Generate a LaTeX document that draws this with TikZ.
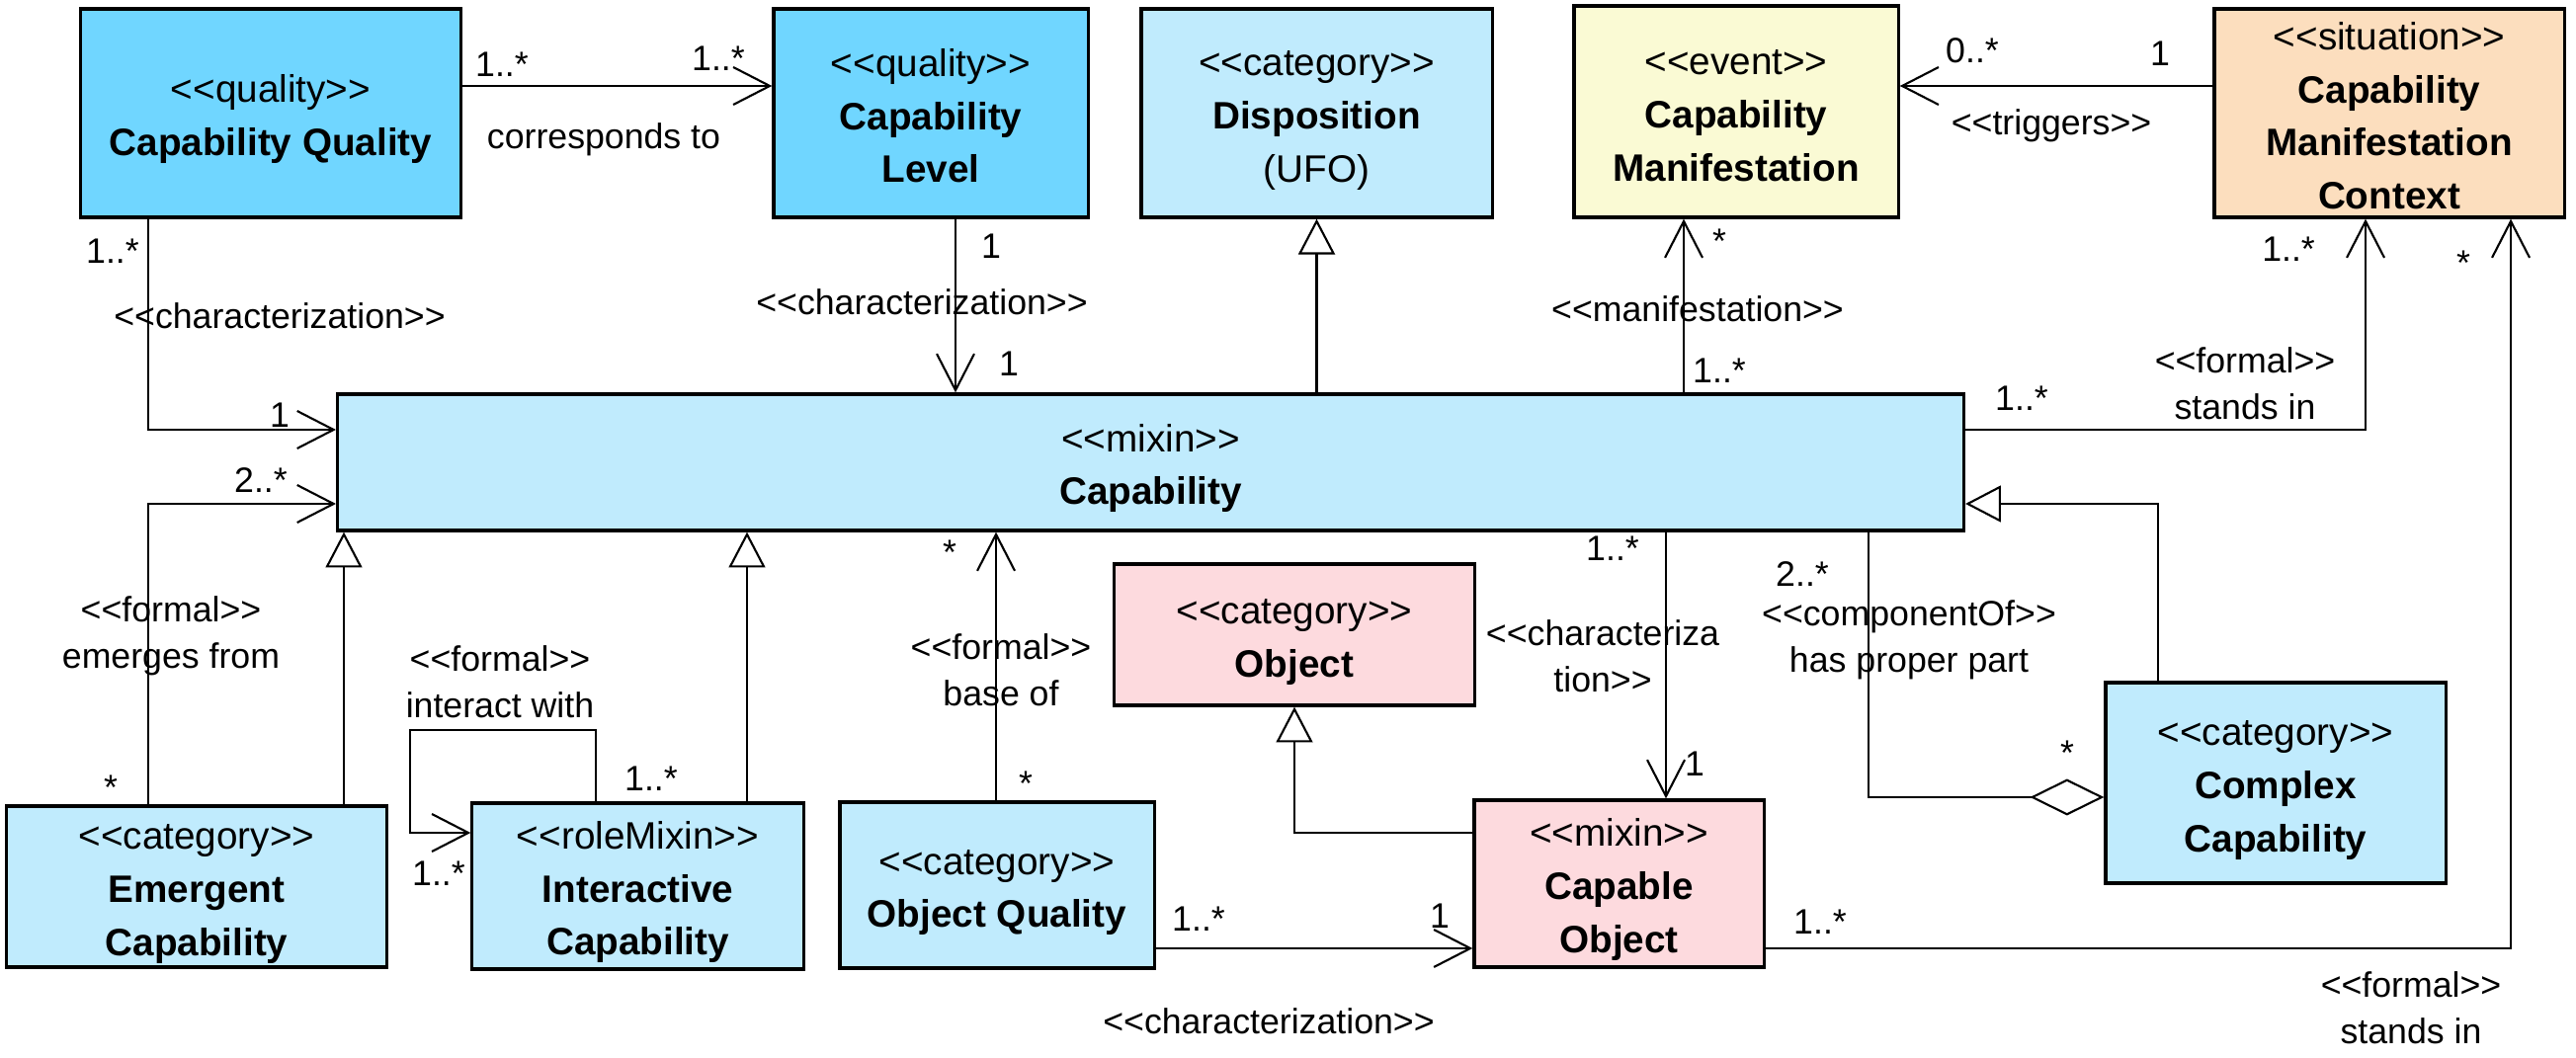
\documentclass[tikz,border=0pt]{standalone}
\usepackage{fontspec}
\setmainfont{Liberation Sans}
\usetikzlibrary{arrows.meta}
\definecolor{qblue}{RGB}{112,214,255}
\definecolor{lblue}{RGB}{192,235,253}
\definecolor{lyellow}{RGB}{250,250,212}
\definecolor{peach}{RGB}{252,222,190}
\definecolor{lpink}{RGB}{253,218,222}
\newcommand{\stereo}[1]{<{}<#1>{}>}
\newcommand{\mystrut}{\rule[-2pt]{0pt}{13.4pt}}
\newcommand{\boxfont}{\fontsize{11}{15.3}\selectfont}
\newcommand{\lblfont}{\fontsize{10.15}{13.4}\selectfont}
\tikzset{
  box/.style={draw=black, line width=0.9pt, inner sep=0pt, align=center, font=\boxfont},
  lbl/.style={inner sep=0pt, align=center, font=\lblfont},
  conn/.style={line width=0.6pt},
  assoc/.style={conn, -{Straight Barb[length=10.5pt,width=10.8pt]}},
  gen/.style={conn, -{Triangle[open,length=10.2pt,width=10.5pt]}},
  agg/.style={conn, -{Diamond[open,length=21.3pt,width=10.5pt]}},
}
\begin{document}
\begin{tikzpicture}[x=0.01cm,y=-0.01cm]
\fill[white] (0,0) rectangle (2607,1071);
\useasboundingbox (0,0) rectangle (2607,1071);

% ---------- boxes ----------
\node[box, fill=qblue, minimum width=38.4mm, minimum height=21.1mm] (cq) at (274,114.5)
  {\mystrut\stereo{quality}\\\mystrut\textbf{Capability Quality}};
\node[box, fill=qblue, minimum width=31.8mm, minimum height=21.1mm] (cl) at (942,114.5)
  {\mystrut\stereo{quality}\\\mystrut\textbf{Capability}\\\mystrut\textbf{Level}};
\node[box, fill=lblue, minimum width=35.5mm, minimum height=21.1mm] (disp) at (1332.5,114.5)
  {\mystrut\stereo{category}\\\mystrut\textbf{Disposition}\\\mystrut(UFO)};
\node[box, fill=lyellow, minimum width=32.8mm, minimum height=21.4mm] (cm) at (1757,113)
  {\mystrut\stereo{event}\\\mystrut\textbf{Capability}\\\mystrut\textbf{Manifestation}};
\node[box, fill=peach, minimum width=35.4mm, minimum height=21.1mm] (cmc) at (2418,114.5)
  {\mystrut\stereo{situation}\\\mystrut\textbf{Capability}\\\mystrut\textbf{Manifestation}\\\mystrut\textbf{Context}};
\node[box, fill=lblue, minimum width=164.5mm, minimum height=13.8mm] (cap) at (1164.5,468)
  {\mystrut\stereo{mixin}\\\mystrut\textbf{Capability}};
\node[box, fill=lpink, minimum width=36.4mm, minimum height=14.3mm] (obj) at (1310,642.5)
  {\mystrut\stereo{category}\\\mystrut\textbf{Object}};
\node[box, fill=lblue, minimum width=38.4mm, minimum height=16.3mm] (emer) at (199,897.5)
  {\mystrut\stereo{category}\\\mystrut\textbf{Emergent}\\\mystrut\textbf{Capability}};
\node[box, fill=lblue, minimum width=33.5mm, minimum height=16.8mm] (inter) at (645.5,897)
  {\mystrut\stereo{roleMixin}\\\mystrut\textbf{Interactive}\\\mystrut\textbf{Capability}};
\node[box, fill=lblue, minimum width=31.8mm, minimum height=16.8mm] (oq) at (1009,896)
  {\mystrut\stereo{category}\\\mystrut\textbf{Object Quality}};
\node[box, fill=lpink, minimum width=29.3mm, minimum height=16.9mm] (capobj) at (1638.5,894.5)
  {\mystrut\stereo{mixin}\\\mystrut\textbf{Capable}\\\mystrut\textbf{Object}};
\node[box, fill=lblue, minimum width=34.4mm, minimum height=20.3mm] (cplx) at (2303,792.5)
  {\mystrut\stereo{category}\\\mystrut\textbf{Complex}\\\mystrut\textbf{Capability}};

% ---------- connectors ----------
\draw[assoc] (cq.east |- 0,87) -- (cl.west |- 0,87);
\draw[assoc] (cq.south -| 150,0) |- (cap.west |- 0,435);
\draw[assoc] (cl.south -| 967,0) -- (cap.north -| 967,0);
\draw[gen] (cap.north -| disp.south) -- (disp.south);
\draw[assoc] (cap.north -| 1704,0) -- (cm.south -| 1704,0);
\draw[assoc] (cmc.west |- 0,87) -- (cm.east |- 0,87);
\draw[assoc] (cap.east |- 0,435) -| (cmc.south -| 2394,0);
\draw[assoc] (capobj.east |- 0,960) -| (cmc.south -| 2541,0);
\draw[assoc] (emer.north -| 150,0) |- (cap.west |- 0,510);
\draw[gen] (emer.north -| 348,0) -- (cap.south -| 348,0);
\draw[gen] (inter.north -| 756,0) -- (cap.south -| 756,0);
\coordinate (loop) at (415,739);
\draw[assoc] (inter.north -| 603,0) |- (loop) |- (inter.west |- 0,843);
\draw[assoc] (oq.north -| 1008,0) -- (cap.south -| 1008,0);
\draw[gen] (capobj.west |- 0,843) -| (obj.south);
\draw[assoc] (cap.south -| 1686,0) -- (capobj.north -| 1686,0);
\draw[assoc] (oq.east |- 0,960) -- (capobj.west |- 0,960);
\draw[gen] (cplx.north -| 2184,0) |- (cap.east |- 0,510);
\draw[agg] (cap.south -| 1891,0) |- (cplx.west |- 0,807);

% ---------- labels ----------
\node[lbl] (t1) at (508,65) {1..*};
\node[lbl] (t2) at (727,59) {1..*};
\node[lbl] (t3) at (611,141) {corresponds to};
\node[lbl] (t4) at (114,254) {1..*};
\node[lbl] (t5) at (283,320) {\stereo{characterization}};
\node[lbl] (t6) at (283,420) {1};
\node[lbl] (t7) at (1003,249) {1};
\node[lbl] (t8) at (933,306) {\stereo{characterization}};
\node[lbl] (t9) at (1021,368) {1};
\node[lbl] (t10) at (1740,244) {*};
\node[lbl] (t11) at (1718,313) {\stereo{manifestation}};
\node[lbl] (t12) at (1740,375) {1..*};
\node[lbl] (t13) at (1996,51) {0..*};
\node[lbl] (t14) at (2186,54) {1};
\node[lbl] (t15) at (2076,127) {\stereo{triggers}};
\node[lbl] (t16) at (2316,252) {1..*};
\node[lbl] (t17) at (2493,266) {*};
\node[lbl] (t18) at (2272,388) {\stereo{formal}\\stands in};
\node[lbl] (t19) at (2046,403) {1..*};
\node[lbl] (t20) at (264,486) {2..*};
\node[lbl] (t21) at (173,644) {\stereo{formal}\\emerges from};
\node[lbl] (t22) at (112,797) {*};
\node[lbl] (t23) at (659,788) {1..*};
\node[lbl] (t24) at (444,884) {1..*};
\node[lbl] (t25) at (506,690) {\stereo{formal}\\interact with};
\node[lbl] (t26) at (961,559) {*};
\node[lbl] (t27) at (1013,678) {\stereo{formal}\\base of};
\node[lbl] (t28) at (1038,793) {*};
\node[lbl] (t29) at (1632,555) {1..*};
\node[lbl] (t30) at (1622,664) {<{}<characteriza\\tion>{}>};
\node[lbl] (t31) at (1715,773) {1};
\node[lbl] (t32) at (1824,581) {2..*};
\node[lbl] (t33) at (1932,648) {\stereo{componentOf}\\has proper part};
\node[lbl] (t34) at (2092,762) {*};
\node[lbl] (t35) at (1213,930) {1..*};
\node[lbl] (t36) at (1457,927) {1};
\node[lbl] (t37) at (1284,1034) {\stereo{characterization}};
\node[lbl] (t38) at (1842,933) {1..*};
\node[lbl] (t39) at (2440,1020) {\stereo{formal}\\stands in};
\end{tikzpicture}
\end{document}
